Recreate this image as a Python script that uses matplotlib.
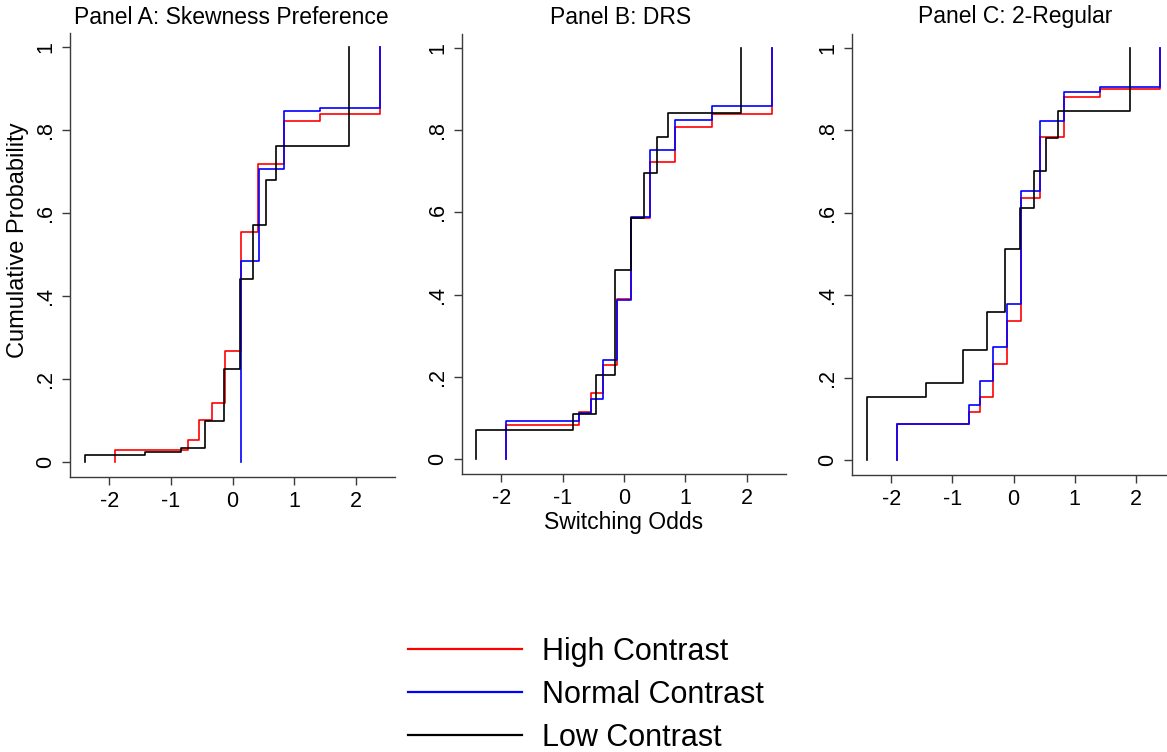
import numpy as np
import matplotlib
matplotlib.use("Agg")
import matplotlib.pyplot as plt
from matplotlib.lines import Line2D

plt.rcParams['font.family'] = ['Liberation Sans', 'DejaVu Sans']

# Series names and colours (Stata style)
series = ["High Contrast", "Normal Contrast", "Low Contrast"]
colors = ["#ff0000", "#0000ff", "#000000"]

titles = ["Panel A: Skewness Preference", "Panel B: DRS", "Panel C: 2-Regular"]

# Panel A: step positions (switching odds) and cumulative probability after each step
a_high_x = [-1.91, -0.72, -0.54, -0.34, -0.12, 0.13, 0.42, 0.83, 1.42, 2.40]
a_high_y = [0.030, 0.052, 0.102, 0.141, 0.267, 0.553, 0.717, 0.821, 0.837, 1.0]
a_norm_x = [0.13, 0.43, 0.83, 1.42, 2.40]
a_norm_y = [0.485, 0.705, 0.844, 0.853, 1.0]
a_low_x = [-2.40, -1.42, -0.84, -0.44, -0.14, 0.12, 0.33, 0.54, 0.71, 1.90]
a_low_y = [0.018, 0.025, 0.034, 0.100, 0.225, 0.440, 0.570, 0.680, 0.760, 1.0]

# Panel B
b_high_x = [-1.92, -0.73, -0.54, -0.34, -0.12, 0.12, 0.43, 0.83, 1.43, 2.41]
b_high_y = [0.083, 0.114, 0.160, 0.229, 0.390, 0.587, 0.723, 0.808, 0.838, 1.0]
b_norm_x = [-1.92, -0.73, -0.54, -0.34, -0.12, 0.12, 0.43, 0.83, 1.43, 2.41]
b_norm_y = [0.092, 0.111, 0.146, 0.240, 0.387, 0.589, 0.751, 0.824, 0.858, 1.0]
b_low_x = [-2.41, -0.83, -0.45, -0.14, 0.12, 0.33, 0.53, 0.72, 1.90]
b_low_y = [0.072, 0.110, 0.205, 0.459, 0.585, 0.696, 0.782, 0.841, 1.0]

# Panel C
c_high_x = [-1.91, -0.73, -0.54, -0.34, -0.11, 0.13, 0.43, 0.83, 1.42, 2.39]
c_high_y = [0.088, 0.117, 0.153, 0.234, 0.338, 0.636, 0.784, 0.880, 0.899, 1.0]
c_norm_x = [-1.91, -0.73, -0.54, -0.34, -0.11, 0.13, 0.43, 0.83, 1.42, 2.39]
c_norm_y = [0.088, 0.134, 0.192, 0.274, 0.378, 0.653, 0.821, 0.893, 0.904, 1.0]
c_low_x = [-2.40, -1.43, -0.83, -0.44, -0.14, 0.11, 0.33, 0.53, 0.72, 1.91]
c_low_y = [0.153, 0.187, 0.266, 0.359, 0.513, 0.611, 0.702, 0.782, 0.846, 1.0]

panels = [
    [(a_high_x, a_high_y), (a_norm_x, a_norm_y), (a_low_x, a_low_y)],
    [(b_high_x, b_high_y), (b_norm_x, b_norm_y), (b_low_x, b_low_y)],
    [(c_high_x, c_high_y), (c_norm_x, c_norm_y), (c_low_x, c_low_y)],
]

xticks = [-2, -1, 0, 1, 2]
yticks = [0, 0.2, 0.4, 0.6, 0.8, 1.0]
ytick_labels = ["0", ".2", ".4", ".6", ".8", "1"]

W, H = 1167, 752
fig = plt.figure(figsize=(W / 100, H / 100), dpi=100)

# axes boxes in pixels: left, top, right, bottom
boxes = [(70, 33, 395, 477), (462, 34, 786, 474), (852, 34, 1175, 475)]
title_cx = [231, 621, 1015]
spine_col = "#3a3a3a"

for i in range(3):
    l, t, r, b = boxes[i]
    ax = fig.add_axes([l / W, 1 - b / H, (r - l) / W, (b - t) / H])
    for k, (xs, ys) in enumerate(panels[i]):
        ax.plot([xs[0]] + xs, [0] + ys, drawstyle="steps-post",
                color=colors[k], lw=1.2)
    ax.set_xlim(-2.64, 2.64)
    ax.set_ylim(-0.036, 1.033)
    ax.set_xticks(xticks)
    ax.set_xticklabels([str(v) for v in xticks])
    ax.set_yticks(yticks)
    ax.set_yticklabels(ytick_labels, rotation=90, va="center")
    ax.spines["top"].set_visible(False)
    ax.spines["right"].set_visible(False)
    for s in ["left", "bottom"]:
        ax.spines[s].set_color(spine_col)
        ax.spines[s].set_linewidth(1.0)
    ax.tick_params(direction="out", length=6, width=1.0, color=spine_col,
                   labelsize=15.5, pad=4)
    fig.text(title_cx[i] / W, 1 - 17 / H, titles[i], ha="center", va="center",
             fontsize=16.5)

fig.text(18 / W, 1 - 240 / H, "Cumulative Probability", rotation=90,
         ha="center", va="center", fontsize=17)
fig.text(624 / W, 1 - 523 / H, "Switching Odds", ha="center", va="center",
         fontsize=16.5)

# legend below the panels
leg_y = [649, 692, 735]
for k in range(3):
    y = 1 - leg_y[k] / H
    fig.add_artist(Line2D([408 / W, 522 / W], [y, y], transform=fig.transFigure,
                          color=colors[k], lw=1.6))
    fig.text(542 / W, 1 - (leg_y[k] + 11) / H, series[k], ha="left",
             va="baseline", fontsize=22)

fig.savefig("out.png", dpi=100)
